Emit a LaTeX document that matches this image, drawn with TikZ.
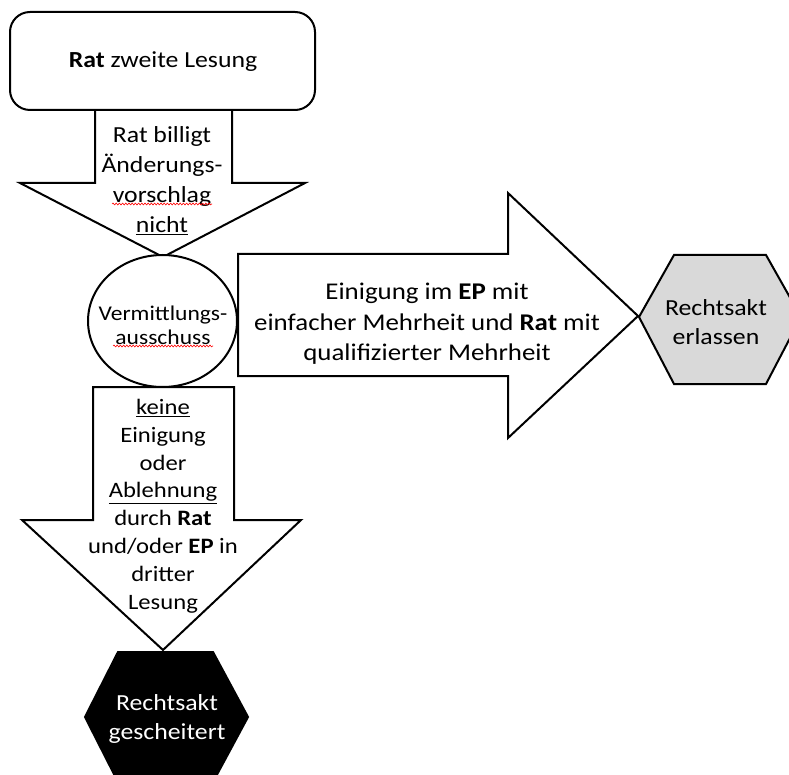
\documentclass[tikz,border=0pt]{standalone}
\usepackage{fontspec}
\setmainfont{Carlito}[FakeStretch=1.12]
\usetikzlibrary{shapes.geometric,decorations.pathmorphing}
\definecolor{hexgray}{HTML}{D9D9D9}
\begin{document}
\begin{tikzpicture}[x=1pt,y=-1pt,
  shapeline/.style={draw=black,line width=2pt,line join=miter,fill=white},
  txt/.style={font=\fontsize{23}{28}\selectfont,align=center,inner sep=0pt,text=black},
  spell/.style={draw=red,line width=0.6pt,decorate,decoration={snake,amplitude=0.9pt,segment length=3.2pt}}]
\useasboundingbox (0,0) rectangle (789,775);
\begin{scope}
\clip (0,0) rectangle (789,775);
% arrow 1 (down)
\draw[shapeline] (95,110) -- (232,110) -- (232,183) -- (305,183) -- (163,257) -- (20,183) -- (95,183) -- cycle;
% top rounded box
\draw[shapeline,rounded corners=20pt] (10,12) rectangle (315,110);
% ellipse
\node[shapeline,ellipse,minimum width=149pt,minimum height=132pt,inner sep=0pt] (ve) at (162.5,321) {};
% right arrow
\draw[shapeline] (238,254) -- (508,254) -- (508,193) -- (638,316) -- (508,438) -- (508,376) -- (238,376) -- cycle;
% lower arrow
\draw[shapeline] (93,387) -- (234,387) -- (234,520) -- (301,520) -- (163,650) -- (22,520) -- (93,520) -- cycle;
% grey hexagon
\draw[shapeline,fill=hexgray] (639,317) -- (674,255) -- (766,255) -- (801,317) -- (766,384) -- (674,384) -- cycle;
% black hexagon
\draw[shapeline,fill=black] (85,717) -- (118,652) -- (213,652) -- (248,717) -- (213,782) -- (118,782) -- cycle;
\end{scope}
% texts
\node[txt] (t0) at (163,62) {\textbf{Rat} zweite Lesung};
\node[txt,font=\fontsize{23}{30}\selectfont] (t1) at (162,181) {Rat billigt\\Änderungs-\\vorschlag\\\underline{nicht}};
\node[txt,font=\fontsize{21}{24}\selectfont] (t2) at (163,325) {Vermittlungs-\\ausschuss};
\node[txt,font=\fontsize{24}{30.5}\selectfont] (t3) at (427,324) {Einigung im \textbf{EP} mit\\einfacher Mehrheit und \textbf{Rat} mit\\qualifizierter Mehrheit};
\node[txt,font=\fontsize{22}{27.8}\selectfont] (t4) at (163,506) {\underline{keine}\\Einigung\\oder\\\underline{Ablehnung}\\durch \textbf{Rat}\\und/oder \textbf{EP} in\\dritter\\Lesung};
\node[txt,font=\fontsize{23}{29}\selectfont] (t5) at (716,322) {Rechtsakt\\erlassen};
\node[txt,font=\fontsize{23}{29}\selectfont,text=white] (t6) at (167,719) {Rechtsakt\\gescheitert};
% spelling marks
\draw[spell] (112,204) -- (212,204);
\draw[spell] (113,346) -- (213,346);
\end{tikzpicture}
\end{document}
